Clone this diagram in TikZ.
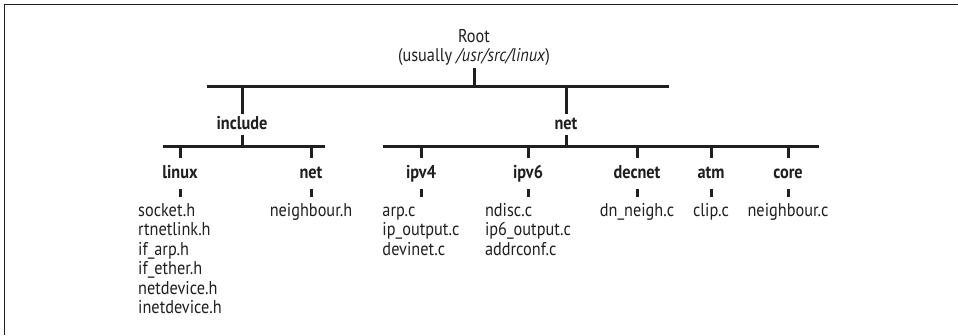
\documentclass[tikz,border=0pt]{standalone}
\usepackage{fontspec}
\setmainfont{PT Sans}[FakeStretch=0.88]

\begin{document}
\begin{tikzpicture}[x=1pt, y=-1pt,
    lvl1/.style={font=\bfseries\fontsize{18.5}{19}\selectfont, text=ink, anchor=base, text height=13pt, text depth=4pt, inner xsep=0pt, inner ysep=2pt},
    lvl2/.style={lvl1, inner ysep=7pt},
    files/.style={font=\fontsize{18.5}{19.5}\selectfont, text=ink, align=left, anchor=north, inner xsep=0pt, inner ysep=5pt},
    trunk/.style={draw=ink, line width=3pt}]
    \colorlet{ink}{black!88}

    % frame
    \useasboundingbox (0,0) rectangle (958,335);
    \draw[ink, line width=1.6pt] (4.5,335) -- (4.5,4.5) -- (958,4.5);

    % directories
    \node[font=\fontsize{18.5}{19}\selectfont, text=ink, align=center, anchor=south, inner xsep=0pt, inner ysep=2pt] (root) at (474,68) {Root\\(usually \textit{/usr/src/linux})};
    \node[lvl1] (inc) at (242,129) {include};
    \node[lvl1] (net) at (566,129) {net};
    \node[lvl2] (linux) at (180,178) {linux};
    \node[lvl2] (incnet) at (311,178) {net};
    \node[lvl2] (ipv4) at (421,178) {ipv4};
    \node[lvl2] (ipv6) at (528,178) {ipv6};
    \node[lvl2] (decnet) at (637,178) {decnet};
    \node[lvl2] (atm) at (711,178) {atm};
    \node[lvl2] (core) at (788,178) {core};

    % files
    \node[files] (linuxf) at (180,197) {\rule{0pt}{14pt}socket.h\\rtnetlink.h\\if\_arp.h\\if\_ether.h\\netdevice.h\\inetdevice.h};
    \node[files] (incnetf) at (311,197) {\rule{0pt}{14pt}neighbour.h};
    \node[files] (ipv4f) at (421,197) {\rule{0pt}{14pt}arp.c\\ip\_output.c\\devinet.c};
    \node[files] (ipv6f) at (528,197) {\rule{0pt}{14pt}ndisc.c\\ip6\_output.c\\addrconf.c};
    \node[files] (decnetf) at (637,197) {\rule{0pt}{14pt}dn\_neigh.c};
    \node[files] (atmf) at (711,197) {\rule{0pt}{14pt}clip.c};
    \node[files] (coref) at (788,197) {\rule{0pt}{14pt}neighbour.c};

    % bars
    \coordinate (b0w) at (207,86);
    \coordinate (b0e) at (669,86);
    \coordinate (b1w) at (163,146);
    \coordinate (b1e) at (325,146);
    \coordinate (b2w) at (383,146);
    \coordinate (b2e) at (819,146);
    \draw[trunk] (b0w) -- (b0e);
    \draw[trunk] (b1w) -- (b1e);
    \draw[trunk] (b2w) -- (b2e);

    % stems
    \draw[trunk] (root) -- (root |- b0w);
    \draw[trunk] (inc) -- (inc |- b0w);
    \draw[trunk] (net) -- (net |- b0w);
    \draw[trunk] (inc) -- (inc |- b1w);
    \draw[trunk] (net) -- (net |- b2w);
    \draw[trunk] (linux) -- (linux |- b1w);
    \draw[trunk] (incnet) -- (incnet |- b1w);
    \draw[trunk] (ipv4) -- (ipv4 |- b2w);
    \draw[trunk] (ipv6) -- (ipv6 |- b2w);
    \draw[trunk] (decnet) -- (decnet |- b2w);
    \draw[trunk] (atm) -- (atm |- b2w);
    \draw[trunk] (core) -- (core |- b2w);

    % stems to file lists
    \draw[trunk] (linux) -- (linuxf);
    \draw[trunk] (incnet) -- (incnetf);
    \draw[trunk] (ipv4) -- (ipv4f);
    \draw[trunk] (ipv6) -- (ipv6f);
    \draw[trunk] (decnet) -- (decnetf);
    \draw[trunk] (atm) -- (atmf);
    \draw[trunk] (core) -- (coref);
\end{tikzpicture}
\end{document}
